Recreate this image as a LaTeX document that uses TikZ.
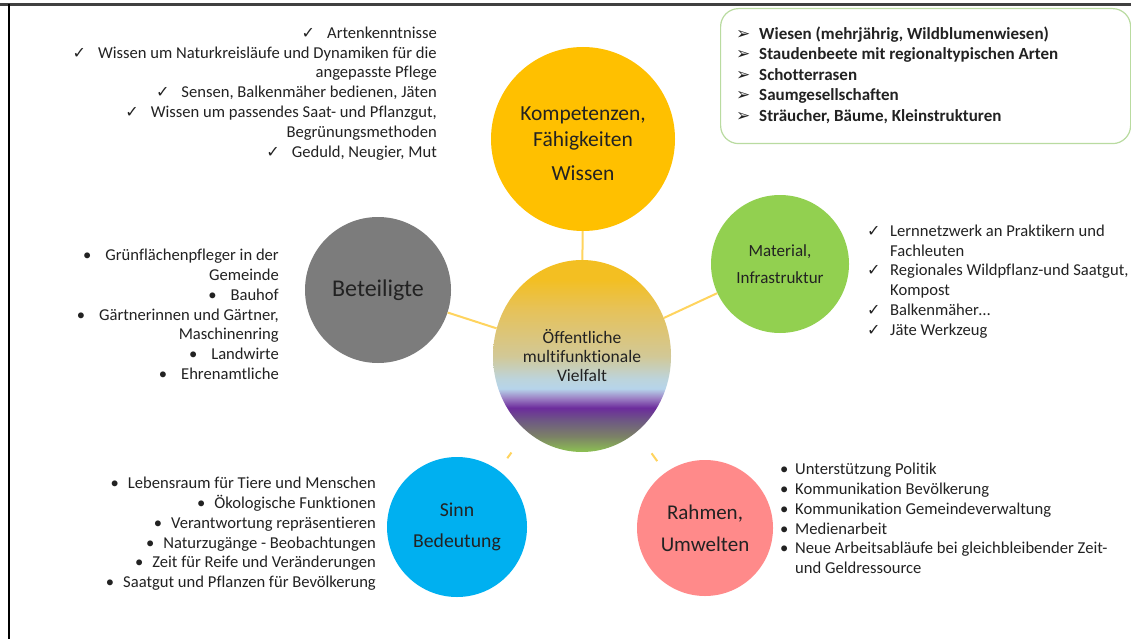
\documentclass[tikz,border=0pt]{standalone}
\usepackage{fontspec}
\setmainfont{Carlito}[Ligatures=NoCommon]
\newfontfamily\symfont{DejaVu Sans}
\usetikzlibrary{shapes.geometric}

% palette
\definecolor{ink}{HTML}{222222}
\definecolor{framegray}{HTML}{404040}
\definecolor{cyellow}{HTML}{FFC000}
\definecolor{cgray}{HTML}{7C7C7C}
\definecolor{cgreen}{HTML}{92D050}
\definecolor{cblue}{HTML}{00B0F0}
\definecolor{cred}{HTML}{FF8A8A}
\definecolor{connyellow}{HTML}{FFD45E}
\definecolor{boxgreen}{HTML}{B9DBA0}
% stops of the central gradient
\definecolor{vgreen}{HTML}{8CC152}
\definecolor{volive}{HTML}{7C8266}
\definecolor{vgraypurple}{HTML}{6E5A82}
\definecolor{vpurple}{HTML}{6C2C9C}
\definecolor{vlav}{HTML}{9C80C4}
\definecolor{vblue}{HTML}{B6D4EA}
\definecolor{vbluetwo}{HTML}{BCD4DC}
\definecolor{vtan}{HTML}{D2C896}
\definecolor{vyeltwo}{HTML}{E6C25A}
\definecolor{vyel}{HTML}{F3BF22}

\pgfdeclareverticalshading{vielfalt}{100bp}{%
  color(0bp)=(vgreen); color(25bp)=(vgreen); color(29bp)=(volive);
  color(33bp)=(vgraypurple); color(36.5bp)=(vpurple); color(39bp)=(vlav);
  color(41.5bp)=(vblue); color(44bp)=(vbluetwo); color(50bp)=(vtan);
  color(62bp)=(vyeltwo); color(70bp)=(vyel); color(100bp)=(vyel)}

\newcommand{\ck}{{\symfont\fontsize{16}{16}\selectfont ✓}}
\newcommand{\bul}{•}
\newcommand{\arr}{{\symfont\fontsize{17}{17}\selectfont ➢}}

\tikzset{
  bubble/.style={circle, inner sep=0, text=ink, align=center},
  conn/.style={draw=connyellow, line width=2pt},
  listtext/.style={inner sep=0, text=ink, font=\fontsize{16.6}{19.8}\selectfont},
}

\begin{document}
\begin{tikzpicture}[x=1pt, y=-1pt]
\useasboundingbox (0,0) rectangle (1131,639);
\fill[white] (0,0) rectangle (1131,639);

% frame lines
\draw[framegray, line width=3pt] (0,4.5) -- (1131,4.5);
\draw[black, line width=2pt] (9,4.5) -- (9,639);

% circles
\node[bubble, fill=cyellow, minimum size=184pt, font=\fontsize{21.5}{26}\selectfont] (komp) at (583,139)
  {\rule{0pt}{24pt}Kompetenzen,\\Fähigkeiten\\[8pt]Wissen};
\node[ellipse, inner sep=0, minimum width=178pt, minimum height=192pt, shading=vielfalt,
  text=ink, align=center, font=\fontsize{17.5}{19}\selectfont] (mitte) at (582,356)
  {Öffentliche\\multifunktionale\\Vielfalt};
\node[bubble, fill=cgreen, minimum size=138pt, font=\fontsize{17}{27}\selectfont] (mat) at (780,264)
  {Material,\\Infrastruktur};
\node[bubble, fill=cgray, minimum size=146pt, font=\fontsize{24}{28}\selectfont] (bet) at (378,290)
  {Beteiligte};
\node[bubble, fill=cblue, minimum size=140pt, font=\fontsize{19.7}{31}\selectfont] (sinn) at (457,527)
  {Sinn\\Bedeutung};
\node[bubble, fill=cred, minimum size=136pt, font=\fontsize{21}{32}\selectfont] (rahmen) at (705,528)
  {Rahmen,\\Umwelten};

% connectors
\draw[conn] (mitte) -- (komp);
\draw[conn] (mitte) -- (mat);
\draw[conn] (mitte) -- (bet);
\draw[conn, shorten <=26pt, shorten >=15pt] (mitte) -- (sinn);
\draw[conn, shorten <=26pt, shorten >=14pt] (mitte) -- (rahmen);

% competence list
\node[listtext, anchor=north east, align=right] (kompliste) at (437,26.5) {%
  \ck\hspace{12pt}Artenkenntnisse\\
  \ck\hspace{12pt}Wissen um Naturkreisläufe und Dynamiken für die\\
  angepasste Pflege\\
  \ck\hspace{12pt}Sensen, Balkenmäher bedienen, Jäten\\
  \ck\hspace{12pt}Wissen um passendes Saat- und Pflanzgut,\\
  Begrünungsmethoden\\
  \ck\hspace{12pt}Geduld, Neugier, Mut};

% participants
\node[listtext, anchor=north east, align=right] (betliste) at (279,249) {%
  \bul\hspace{14pt}Grünflächenpfleger in der\\
  Gemeinde\\
  \bul\hspace{14pt}Bauhof\\
  \bul\hspace{14pt}Gärtnerinnen und Gärtner,\\
  Maschinenring\\
  \bul\hspace{14pt}Landwirte\\
  \bul\hspace{14pt}Ehrenamtliche};

% material list
\node[listtext, anchor=north west, align=left] (matliste) at (867,224.5) {%
  \makebox[23pt][l]{\ck}Lernnetzwerk an Praktikern und\\
  \hspace*{23pt}Fachleuten\\
  \makebox[23pt][l]{\ck}Regionales Wildpflanz-und Saatgut,\\
  \hspace*{23pt}Kompost\\
  \makebox[23pt][l]{\ck}Balkenmäher…\\
  \makebox[23pt][l]{\ck}Jäte Werkzeug};

% meaning list
\node[listtext, anchor=north east, align=right] (sinnliste) at (376,477) {%
  \bul\hspace{9pt}Lebensraum für Tiere und Menschen\\
  \bul\hspace{9pt}Ökologische Funktionen\\
  \bul\hspace{9pt}Verantwortung repräsentieren\\
  \bul\hspace{9pt}Naturzugänge - Beobachtungen\\
  \bul\hspace{9pt}Zeit für Reife und Veränderungen\\
  \bul\hspace{9pt}Saatgut und Pflanzen für Bevölkerung};

% framework list
\node[listtext, anchor=north west, align=left] (rahmenliste) at (780,463) {%
  \makebox[15pt][l]{\bul}Unterstützung Politik\\
  \makebox[15pt][l]{\bul}Kommunikation Bevölkerung\\
  \makebox[15pt][l]{\bul}Kommunikation Gemeindeverwaltung\\
  \makebox[15pt][l]{\bul}Medienarbeit\\
  \makebox[15pt][l]{\bul}Neue Arbeitsabläufe bei gleichbleibender Zeit-\\
  \hspace*{15pt}und Geldressource};

% area types box
\node[draw=boxgreen, line width=1.2pt, rounded corners=18pt, anchor=north west,
  minimum width=410pt, minimum height=135pt, inner sep=0] (typbox) at (720,8) {};
\node[listtext, anchor=north west, align=left, font=\fontsize{17}{20.5}\selectfont\bfseries] (typliste) at (736,26.5) {%
  \makebox[23pt][l]{\arr}Wiesen (mehrjährig, Wildblumenwiesen)\\
  \makebox[23pt][l]{\arr}Staudenbeete mit regionaltypischen Arten\\
  \makebox[23pt][l]{\arr}Schotterrasen\\
  \makebox[23pt][l]{\arr}Saumgesellschaften\\
  \makebox[23pt][l]{\arr}Sträucher, Bäume, Kleinstrukturen};
\end{tikzpicture}
\end{document}
